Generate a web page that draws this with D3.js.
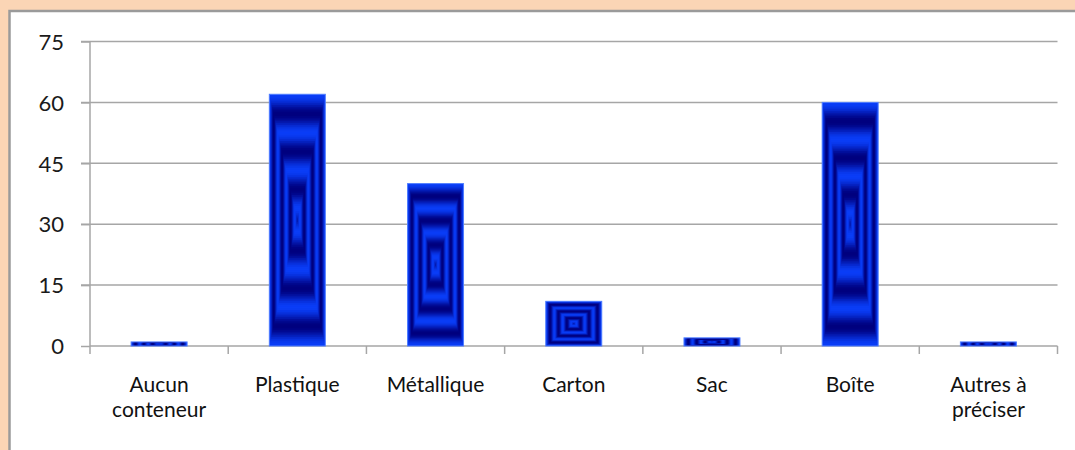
<!DOCTYPE html>
<html>
<head>
<meta charset="utf-8">
<script src="https://cdn.jsdelivr.net/npm/d3@7"></script>
<style>
  html, body { margin: 0; padding: 0; background: #fbd5b5; }
  svg { display: block; }
</style>
</head>
<body>
<svg id="chart" width="1075" height="450"></svg>
<script>
// Container types counted
const categories = ["Aucun conteneur", "Plastique", "Métallique", "Carton", "Sac", "Boîte", "Autres à préciser"];
const categoryLines = [["Aucun", "conteneur"], ["Plastique"], ["Métallique"], ["Carton"], ["Sac"], ["Boîte"], ["Autres à", "préciser"]];
const values = [1, 62, 40, 11, 2, 60, 1];
const yTicks = [0, 15, 30, 45, 60, 75];

const svg = d3.select("#chart");
const W = 1075, H = 450;

// white chart panel on the peach page
svg.append("rect").attr("x", 0).attr("y", 0).attr("width", W).attr("height", H).attr("fill", "#fbd5b5");
svg.append("rect")
  .attr("x", 9.5).attr("y", 11).attr("width", W + 20).attr("height", H + 20)
  .attr("fill", "#ffffff").attr("stroke", "#9a9a9a").attr("stroke-width", 2.5);

const plot = { left: 90, right: 1057.5, top: 41.5, bottom: 346 };

const x = d3.scaleBand().domain(categories).range([plot.left, plot.right]).paddingInner(0.595).paddingOuter(0.2975);
const y = d3.scaleLinear().domain([0, 75]).range([plot.bottom, plot.top]);

// horizontal gridlines
svg.append("g").selectAll("line").data(yTicks.filter(d => d > 0)).join("line")
  .attr("x1", plot.left - 9).attr("x2", plot.right)
  .attr("y1", d => y(d)).attr("y2", d => y(d))
  .attr("stroke", "#a6a6a6").attr("stroke-width", 1.5);

// y axis
const yAxis = svg.append("g").attr("transform", `translate(${plot.left},0)`)
  .call(d3.axisLeft(y).tickValues(yTicks).tickSize(9).tickPadding(17));
yAxis.select(".domain").attr("stroke", "#a6a6a6").attr("stroke-width", 1.5).attr("d", `M0,${plot.top}V${plot.bottom}`);
yAxis.selectAll(".tick line").attr("stroke", "#a6a6a6").attr("stroke-width", 1.5);
yAxis.selectAll(".tick text")
  .attr("font-family", "Lato, 'Open Sans', sans-serif").attr("font-size", 22)
  .attr("fill", "#1a1a1a").attr("dy", "0.35em");

// x axis line and boundary ticks
const band = (plot.right - plot.left) / categories.length;
const xAxisG = svg.append("g");
xAxisG.append("line").attr("x1", plot.left).attr("x2", plot.right)
  .attr("y1", plot.bottom).attr("y2", plot.bottom)
  .attr("stroke", "#a6a6a6").attr("stroke-width", 1.5);
xAxisG.selectAll("line.tk").data(d3.range(categories.length + 1)).join("line").attr("class", "tk")
  .attr("x1", i => plot.left + i * band).attr("x2", i => plot.left + i * band)
  .attr("y1", plot.bottom).attr("y2", plot.bottom + 8)
  .attr("stroke", "#a6a6a6").attr("stroke-width", 1.5);

// category labels
const lbl = svg.append("g").selectAll("text").data(categories).join("text")
  .attr("x", d => x(d) + x.bandwidth() / 2)
  .attr("y", 392)
  .attr("text-anchor", "middle")
  .attr("font-family", "Lato, 'Open Sans', sans-serif").attr("font-size", 21)
  .attr("fill", "#111");
lbl.each(function(d, i) {
  d3.select(this).selectAll("tspan").data(categoryLines[i]).join("tspan")
    .attr("x", x(d) + x.bandwidth() / 2)
    .attr("dy", (t, j) => j === 0 ? 0 : 25)
    .text(t => t);
});

// bars: concentric rectangular bands from bright blue edges to navy
const bright = "#0a3df7", dark = "#00007e";
const mix = d3.interpolateRgb(bright, dark);
const N = 70, period = 0.3;
const rings = d3.range(N).map(i => i / N);

const bars = svg.append("g").selectAll("g").data(categories.map((c, i) => ({ c, v: values[i] }))).join("g");
bars.each(function(d) {
  const x0 = x(d.c), w = x.bandwidth();
  const y0 = y(d.v), h = y(0) - y(d.v);
  const g = d3.select(this);
  g.selectAll("rect.ring").data(rings).join("rect").attr("class", "ring")
    .attr("x", t => x0 + t * w / 2)
    .attr("y", t => y0 + t * h / 2)
    .attr("width", t => w * (1 - t))
    .attr("height", t => h * (1 - t))
    .attr("fill", t => mix((1 - Math.cos(2 * Math.PI * t / period)) / 2));
  g.append("rect")
    .attr("x", x0).attr("y", y0).attr("width", w).attr("height", h)
    .attr("fill", "none").attr("stroke", "#4f7dff").attr("stroke-width", 1);
});
</script>
</body>
</html>
